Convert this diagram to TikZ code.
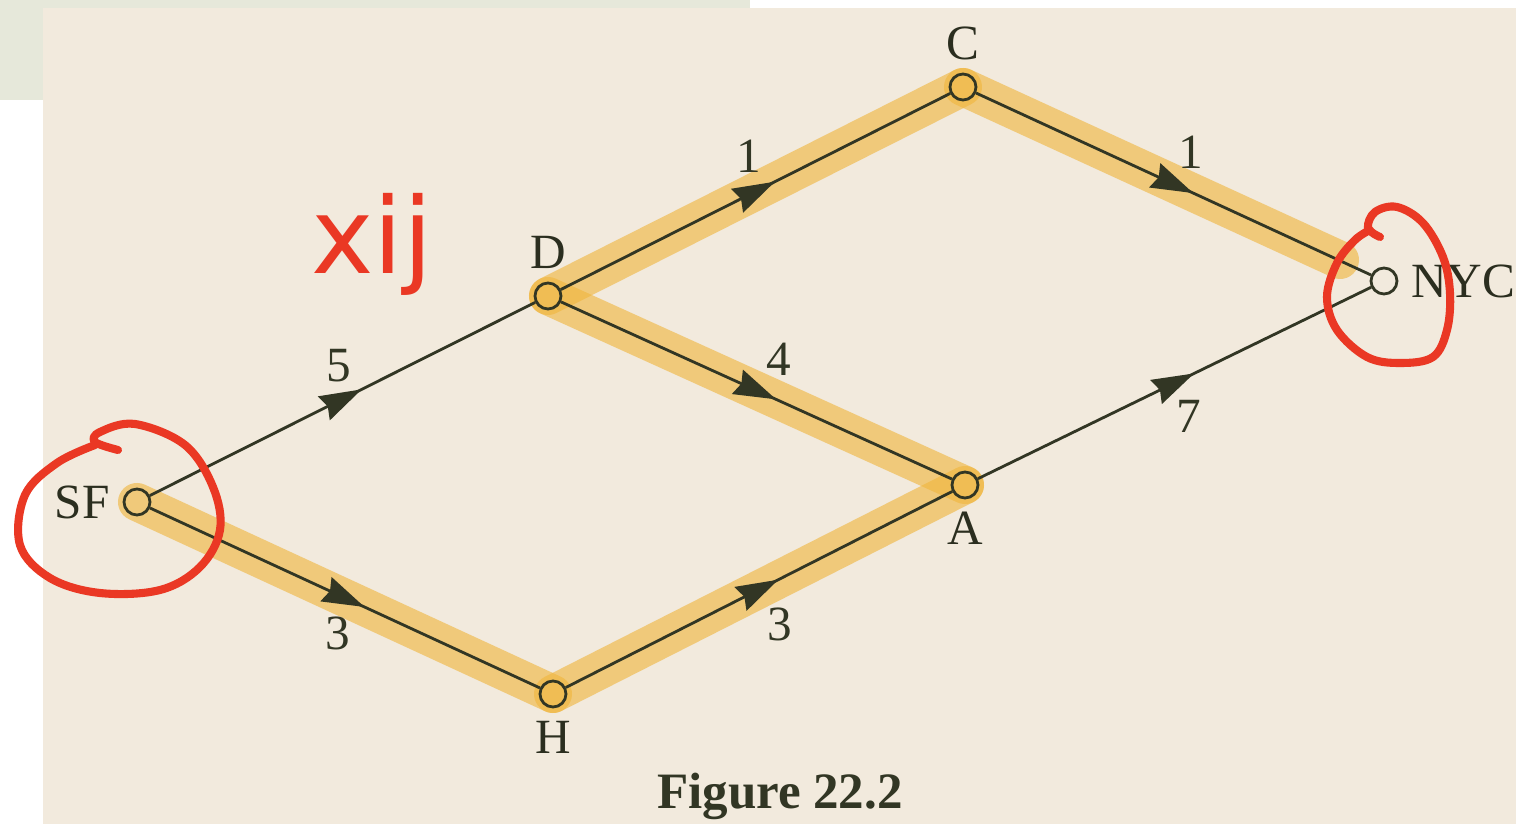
\documentclass[tikz,border=0pt]{standalone}
\usepackage{fontspec}
\setmainfont{Liberation Serif}
\newfontfamily\handfont{DejaVu Sans}
\usepackage{tikz}
\usetikzlibrary{
  arrows.meta,
  decorations.markings,
  backgrounds
}
\definecolor{paper}{RGB}{242,234,221}
\definecolor{scanmargin}{RGB}{230,232,218}
\definecolor{inkgray}{RGB}{50,54,36}
\definecolor{markerorange}{RGB}{240,182,62}
\definecolor{penred}{RGB}{234,56,36}
\tikzset{
  city/.style={draw=inkgray, circle, line width=0.8pt,
    minimum size=0.26cm, inner sep=0pt},
  citylabel/.style={font=\fontsize{14}{16}\selectfont, text=inkgray!85!black, inner sep=2pt},
  road/.style={draw=inkgray, line width=0.8pt, postaction={decorate},
    decoration={markings,
      mark=at position 0.55 with {\arrow{Stealth[length=12pt, width=7.5pt, inset=1.2pt]}}}},
  cost/.style={font=\fontsize{14}{16}\selectfont, text=inkgray, inner sep=1pt},
  marker/.style={markerorange, opacity=0.62, line width=0.38cm,
    line cap=round, line join=round},
  redpen/.style={penred, line width=2.3pt, line cap=round, line join=round},
}

\begin{document}
\begin{tikzpicture}[x=0.01cm, y=0.01cm, label distance=1.5pt]
  \useasboundingbox (0,0) rectangle (1526,824);

  % Cities
  \coordinate (hlend) at (1340,564);
  \node[city, label={[citylabel]left:SF}] (SF) at (137,322) {};
  \node[city, label={[citylabel]above:D}] (D) at (548,528) {};
  \node[city, label={[citylabel]above:C}] (C) at (963,737) {};
  \node[city, label={[citylabel]right:NYC}] (NYC) at (1384,543) {};
  \node[city, label={[citylabel]below:A}] (A) at (965,339) {};
  \node[city, label={[citylabel]below:H}] (H) at (553,130) {};

  % Scanned page and highlighted route, behind everything
  \begin{pgfonlayer}{background}
    \fill[white] (0,0) rectangle (1526,824);
    \fill[scanmargin] (0,724) rectangle (750,824);
    \fill[paper] (43,0) rectangle (1516,816);
    \draw[marker] (SF.center) -- (H.center);
    \draw[marker] (H.center) -- (A.center);
    \draw[marker] (A.center) -- (D.center);
    \draw[marker] (D.center) -- (C.center);
    \draw[marker] (C.center) -- (hlend);
  \end{pgfonlayer}

  % Roads
  \draw[road] (SF) -- (D)
    node[cost, midway, above=0.12cm, xshift=-0.04cm] {5};
  \draw[road] (SF) -- (H)
    node[cost, midway, below=0.14cm, xshift=-0.07cm] {3};
  \draw[road] (D) -- (C)
    node[cost, midway, above=0.14cm, xshift=-0.07cm] {1};
  \draw[road] (C) -- (NYC)
    node[cost, midway, above=0.11cm, xshift=0.17cm] {1};
  \draw[road] (D) -- (A)
    node[cost, midway, above=0.10cm, xshift=0.22cm] {4};
  \draw[road] (H) -- (A)
    node[cost, midway, below=0.13cm, xshift=0.21cm] {3};
  \draw[road] (A) -- (NYC)
    node[cost, midway, below=0.12cm, xshift=0.14cm] {7};

  % Caption
  \node[font=\fontsize{14.5}{16}\selectfont\bfseries, text=inkgray] (cap) at (780,28)
    {Figure 22.2};

  % Red pen notes
  \node[font=\fontsize{30}{30}\selectfont\handfont, text=penred] (xij) at (372,580)
    {xij};
  \draw[redpen] plot[smooth, tension=0.6] coordinates {(118,374) (95,382) (100,392)
    (135,400) (185,379) (213,337) (220,294) (200,257) (160,234) (100,231)
    (50,246) (20,279) (25,329) (57,361) (95,379)};
  \draw[redpen] plot[smooth, tension=0.6] coordinates {(1380,587) (1368,596)
    (1375,612) (1397,617) (1423,601) (1443,567) (1450,531) (1447,494)
    (1433,467) (1400,461) (1367,467) (1337,494) (1327,527) (1337,561)
    (1355,584) (1370,594)};
\end{tikzpicture}
\end{document}
